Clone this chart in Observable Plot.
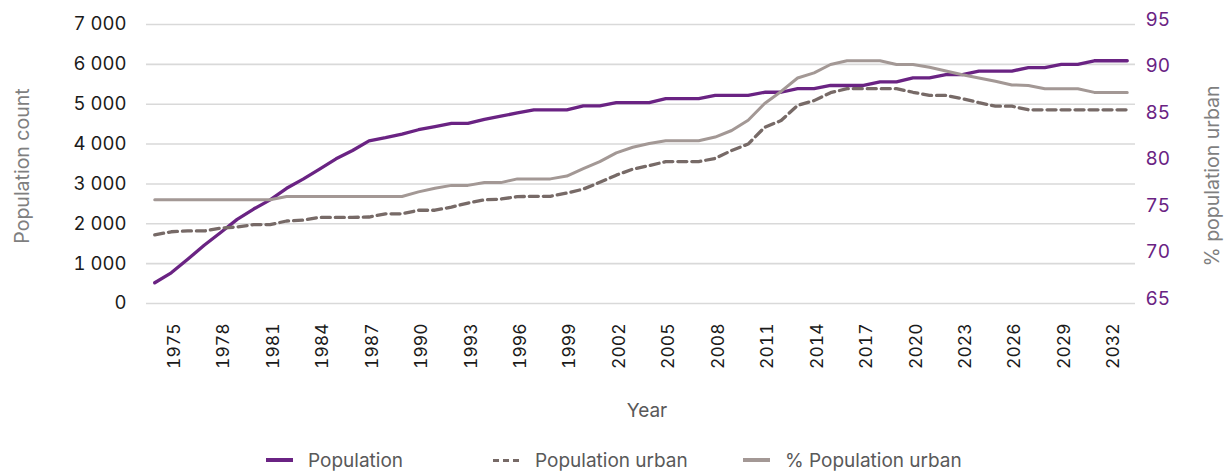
<!DOCTYPE html>
<html>
<head>
<meta charset="utf-8">
<script src="https://cdn.jsdelivr.net/npm/d3@7"></script>
<script src="https://cdn.jsdelivr.net/npm/@observablehq/plot@0.6"></script>
<style>
  html, body { margin: 0; padding: 0; background: #fff; }
  body { width: 1226px; height: 472px; overflow: hidden; font-family: Inter, "DejaVu Sans", sans-serif; }
  #legend { position: relative; width: 1226px; height: 32px; margin-top: 4px; font-size: 19px; color: #595959; }
  .item { position: absolute; top: 0; height: 32px; display: flex; align-items: center; }
  .sw { width: 27px; height: 0; margin-right: 15px; }
</style>
</head>
<body>
<div id="chart"></div>
<div id="legend"></div>
<script>
const years = [1974,1975,1976,1977,1978,1979,1980,1981,1982,1983,1984,1985,1986,1987,1988,1989,1990,1991,1992,1993,
  1994,1995,1996,1997,1998,1999,2000,2001,2002,2003,2004,2005,2006,2007,2008,2009,2010,2011,2012,2013,
  2014,2015,2016,2017,2018,2019,2020,2021,2022,2023,2024,2025,2026,2027,2028,2029,2030,2031,2032,2033];

const population = [520,770,1110,1460,1780,2110,2370,2600,2890,3120,
  3370,3630,3840,4080,4160,4250,4360,4440,4520,4520,
  4620,4700,4780,4860,4860,4860,4960,4960,5040,5040,
  5040,5140,5140,5140,5220,5220,5220,5300,5300,5390,
  5390,5470,5470,5470,5560,5560,5660,5660,5740,5740,
  5830,5830,5830,5920,5920,6000,6000,6090,6090,6090];

const populationUrban = [1720,1800,1820,1820,1890,1920,1980,1980,2070,2090,
  2160,2160,2160,2170,2250,2250,2340,2340,2420,2520,
  2600,2620,2680,2690,2690,2770,2870,3040,3220,3370,
  3460,3560,3560,3560,3640,3840,4000,4420,4590,4970,
  5090,5290,5390,5390,5390,5390,5300,5220,5220,5140,
  5040,4950,4950,4860,4860,4860,4860,4860,4860,4860];

const pctUrban = [76.15,76.15,76.15,76.15,76.15,76.15,76.15,76.15,76.5,76.5,
  76.5,76.5,76.5,76.5,76.5,76.5,77.0,77.4,77.7,77.7,
  78.0,78.0,78.4,78.4,78.4,78.7,79.5,80.25,81.2,81.8,
  82.2,82.5,82.5,82.5,82.9,83.6,84.7,86.5,87.8,89.25,
  89.8,90.7,91.1,91.1,91.1,90.7,90.7,90.4,90.0,89.6,
  89.25,88.9,88.5,88.45,88.1,88.1,88.1,87.7,87.7,87.7];

const leftTicks = [0,1000,2000,3000,4000,5000,6000,7000];
const rightTicks = [65,70,75,80,85,90,95];
const xTicks = [1975,1978,1981,1984,1987,1990,1993,1996,1999,2002,2005,2008,2011,2014,2017,2020,2023,2026,2029,2032];

const seriesNames = ["Population", "Population urban", "% Population urban"];

const PURPLE = "#6a2383";
const DASHED = "#776a67";
const GRAY = "#a39895";

// map right-axis (%) values onto the left scale domain
const leftMax = 7000, rMin = 65, rMax = 95;
const toLeft = v => (v - rMin) / (rMax - rMin) * leftMax;
const fromLeft = d => Math.round(rMin + d / leftMax * (rMax - rMin));

const rows = years.map((year, i) => ({year, pop: population[i], urban: populationUrban[i], pct: toLeft(pctUrban[i])}));

const fmt = d => d3.format(",")(d).replace(/,/g, " ");

const chart = Plot.plot({
  width: 1226,
  height: 440,
  marginLeft: 146,
  marginRight: 91,
  marginTop: 24,
  marginBottom: 137,
  style: {fontFamily: "Inter, 'DejaVu Sans', sans-serif", fontSize: "17px", background: "white", overflow: "visible"},
  x: {domain: [1973.5, 2033.5]},
  y: {domain: [0, leftMax]},
  marks: [
    Plot.gridY(leftTicks, {stroke: "#d9d9d9", strokeOpacity: 1, strokeWidth: 1.6}),
    Plot.axisY(leftTicks, {tickSize: 0, tickPadding: 20, tickFormat: fmt, label: null, color: "#1a1a1a", fontSize: 18.5}),
    Plot.axisY(rightTicks.map(toLeft), {anchor: "right", tickSize: 0, tickPadding: 10, tickFormat: fromLeft, label: null, color: PURPLE, fontSize: 19, dy: -5}),
    Plot.axisX(xTicks, {tickRotate: -90, tickSize: 0, tickPadding: 20, tickFormat: d => String(d), label: null, color: "#1a1a1a", fontSize: 17.5, dx: 3}),
    Plot.line(rows, {x: "year", y: "pop", stroke: PURPLE, strokeWidth: 3.3}),
    Plot.line(rows, {x: "year", y: "urban", stroke: DASHED, strokeWidth: 3.3, strokeDasharray: "9,5"}),
    Plot.line(rows, {x: "year", y: "pct", stroke: GRAY, strokeWidth: 3}),
    Plot.text(["Year"], {frameAnchor: "bottom", dy: 113, dx: 6, fill: "#595959", fontSize: 19}),
    Plot.text(["Population count"], {frameAnchor: "left", textAnchor: "middle", rotate: -90, dx: -124, dy: 2, fill: "#7f7f7f", fontSize: 19.5}),
    Plot.text(["% population urban"], {frameAnchor: "right", textAnchor: "middle", rotate: -90, dx: 77, dy: 12, fill: "#7f7f7f", fontSize: 19.5})
  ]
});
document.getElementById("chart").appendChild(chart);

// legend
const legend = document.getElementById("legend");
const legendStyles = [
  {left: 266, border: `4px solid ${PURPLE}`},
  {left: 493, border: null},
  {left: 743, border: `4px solid ${GRAY}`}
];
seriesNames.forEach((name, i) => {
  const it = document.createElement("div");
  it.className = "item";
  it.style.left = legendStyles[i].left + "px";
  const sw = document.createElement("span");
  sw.className = "sw";
  if (legendStyles[i].border) {
    sw.style.borderTop = legendStyles[i].border;
  } else {
    sw.style.height = "3px";
    sw.style.background = `repeating-linear-gradient(90deg, ${DASHED} 0 6px, transparent 6px 10px)`;
  }
  it.appendChild(sw);
  const t = document.createElement("span");
  t.textContent = name;
  it.appendChild(t);
  legend.appendChild(it);
});
</script>
</body>
</html>
